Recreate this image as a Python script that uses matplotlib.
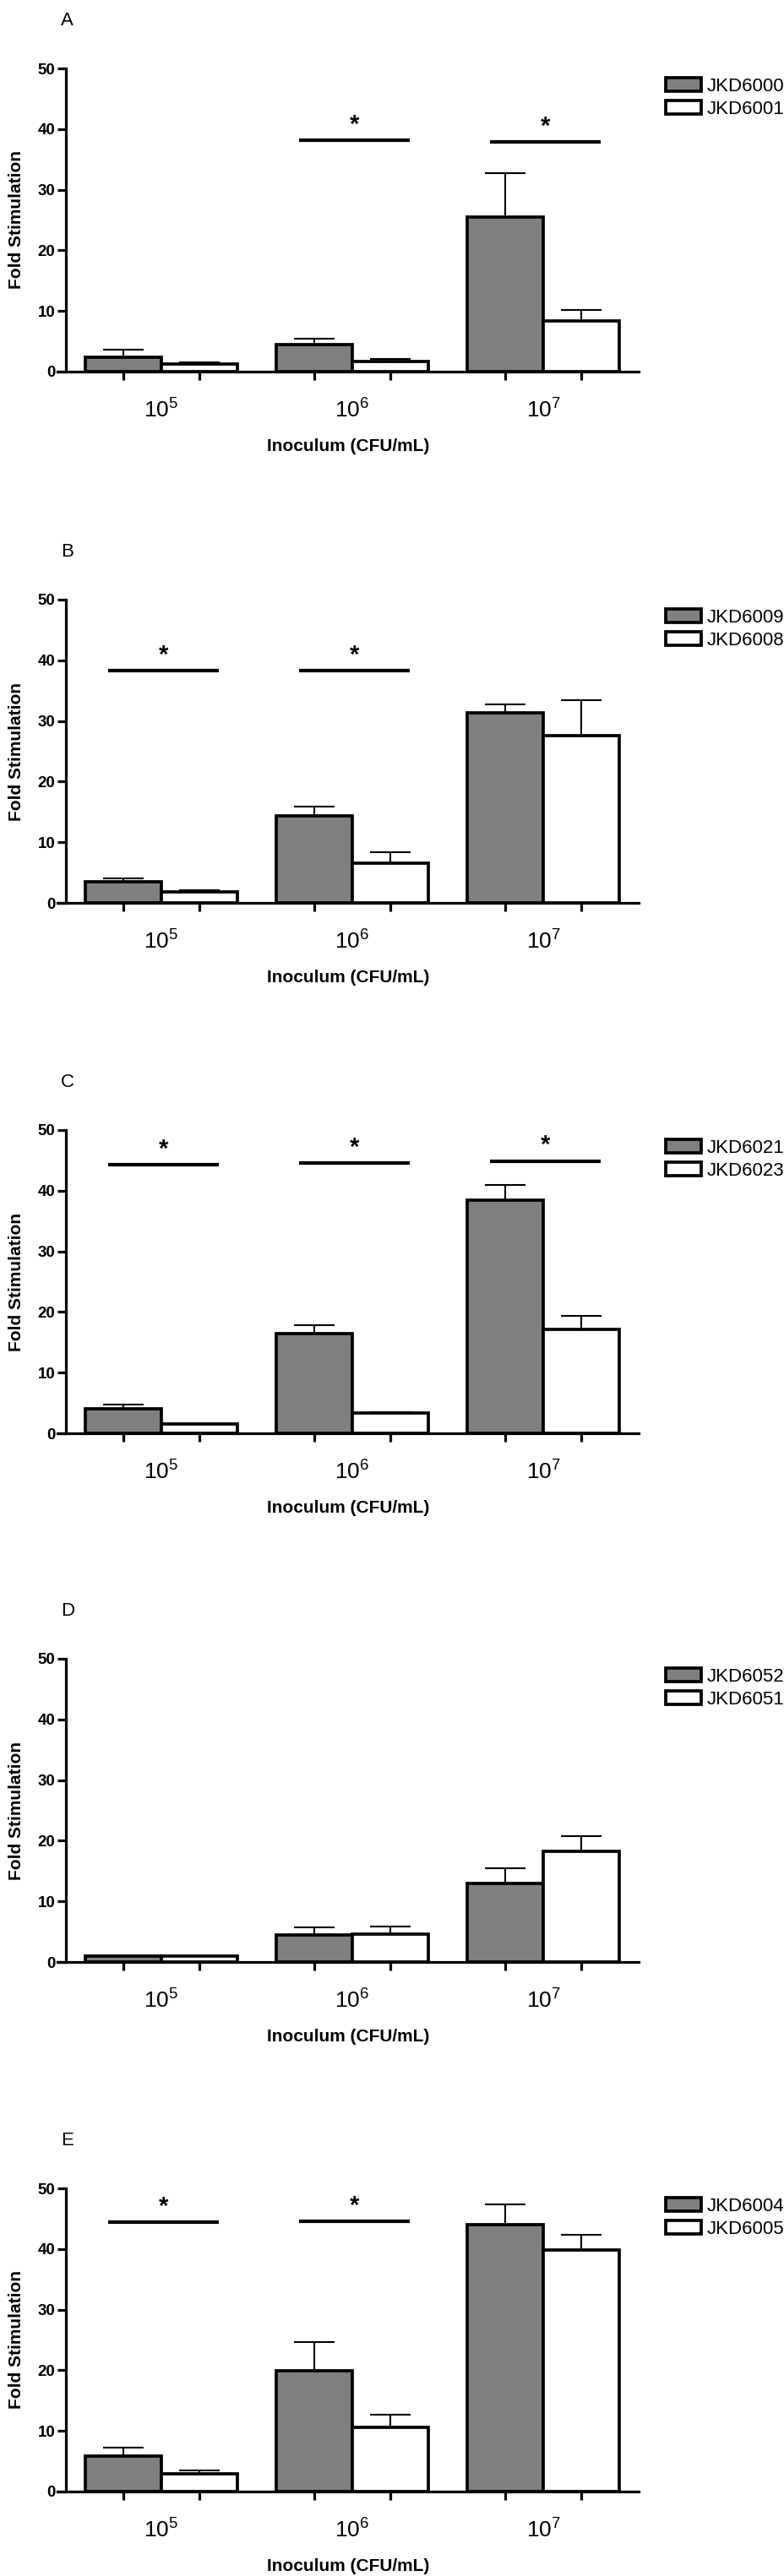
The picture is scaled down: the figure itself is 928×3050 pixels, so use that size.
import numpy as np
import matplotlib
matplotlib.use("Agg")
import matplotlib.pyplot as plt

plt.rcParams['font.family'] = ['Liberation Sans', 'DejaVu Sans']
plt.rcParams['mathtext.fontset'] = 'custom'
plt.rcParams['mathtext.rm'] = 'Liberation Sans'

# data (fold stimulation, mean + upper error)
inoculum_labels = [r'$\mathregular{10^5}$', r'$\mathregular{10^6}$', r'$\mathregular{10^7}$']
panel_letters = ['A', 'B', 'C', 'D', 'E']
strain_names = [
    ('JKD6000', 'JKD6001'),
    ('JKD6009', 'JKD6008'),
    ('JKD6021', 'JKD6023'),
    ('JKD6052', 'JKD6051'),
    ('JKD6004', 'JKD6005'),
]
gray_means = [
    [2.4, 4.4, 25.5],
    [3.5, 14.3, 31.4],
    [4.1, 16.4, 38.5],
    [1.0, 4.4, 12.9],
    [5.8, 19.9, 44.0],
]
gray_err = [
    [1.2, 1.0, 7.2],
    [0.5, 1.6, 1.3],
    [0.6, 1.4, 2.4],
    [0.0, 1.3, 2.5],
    [1.4, 4.8, 3.4],
]
white_means = [
    [1.2, 1.7, 8.3],
    [1.8, 6.5, 27.6],
    [1.5, 3.4, 17.2],
    [1.0, 4.6, 18.3],
    [2.9, 10.6, 39.9],
]
white_err = [
    [0.3, 0.4, 1.9],
    [0.35, 1.8, 5.8],
    [0.0, 0.15, 2.1],
    [0.0, 1.2, 2.4],
    [0.6, 2.1, 2.4],
]
# significance bars: which groups, and at what height
sig_groups = [[1, 2], [0, 1], [0, 1, 2], [], [0, 1]]
sig_heights = [[38.1, 37.9], [38.3, 38.3], [44.3, 44.5, 44.9], [], [44.4, 44.5]]

W, H = 929, 3050
ax_tops = [81, 710, 1338, 1964, 2591]
ax_h = 359
ax_left, ax_w = 68, 688

fig = plt.figure(figsize=(W / 100, H / 100), dpi=100)

x = np.arange(3)
w = 0.4

for i in range(5):
    top = ax_tops[i]
    ax = fig.add_axes([ax_left / W, 1 - (top + ax_h) / H, ax_w / W, ax_h / H])

    b1 = ax.bar(x - w / 2, gray_means[i], w, color='#808080', edgecolor='black',
                linewidth=2.7, zorder=3)
    b2 = ax.bar(x + w / 2, white_means[i], w, color='white', edgecolor='black',
                linewidth=2.7, zorder=3)
    ax.errorbar(x - w / 2, gray_means[i], yerr=[np.zeros(3), gray_err[i]], fmt='none',
                ecolor='black', elinewidth=1.5, capsize=17, capthick=1.5, zorder=2)
    ax.errorbar(x + w / 2, white_means[i], yerr=[np.zeros(3), white_err[i]], fmt='none',
                ecolor='black', elinewidth=1.5, capsize=17, capthick=1.5, zorder=2)

    for g, h in zip(sig_groups[i], sig_heights[i]):
        ax.plot([g - 0.28, g + 0.30], [h, h], color='black', lw=3, solid_capstyle='butt')
        ax.text(g + 0.01, h + 0.6, '*', ha='center', va='bottom', fontsize=21,
                fontweight='bold')

    ax.set_xlim(-0.544, 2.5)
    ax.set_ylim(0, 50)
    for s in ['top', 'right']:
        ax.spines[s].set_visible(False)
    ax.spines['left'].set_position(('data', -0.5))
    ax.spines['left'].set_linewidth(2.3)
    ax.spines['bottom'].set_linewidth(2.3)

    ax.set_yticks(range(0, 51, 10))
    ax.tick_params(axis='y', length=7, width=2.3, pad=2, labelsize=13.5)
    plt.setp(ax.get_yticklabels(), fontweight='bold')

    ax.set_xticks(x)
    ax.set_xticklabels(inoculum_labels)
    ax.tick_params(axis='x', which='major', length=0, pad=23, labelsize=19)
    ax.set_xticks(np.r_[x - w / 2, x + w / 2], minor=True)
    ax.tick_params(axis='x', which='minor', length=7, width=2.3, direction='out')

    ax.set_ylabel('Fold Stimulation', fontsize=15, fontweight='bold')
    ax.yaxis.label.set_va('center')
    ax.yaxis.set_label_coords(-0.07, 0.5)
    ax.set_xlabel('Inoculum (CFU/mL)', fontsize=15, fontweight='bold')
    ax.xaxis.label.set_va('center')
    ax.xaxis.set_label_coords(0.5, -0.246)

    ax.text(0.017, 1.156, panel_letters[i], transform=ax.transAxes, fontsize=16,
            ha='center', va='center')

    ax.legend([b1, b2], strain_names[i], loc='upper left', bbox_to_anchor=(1.0465, 0.97),
              frameon=False, fontsize=16, handlelength=1.9, handleheight=0.75,
              handletextpad=0.3, labelspacing=0.28, borderpad=0, borderaxespad=0)

fig.savefig('out.png', dpi=100)
